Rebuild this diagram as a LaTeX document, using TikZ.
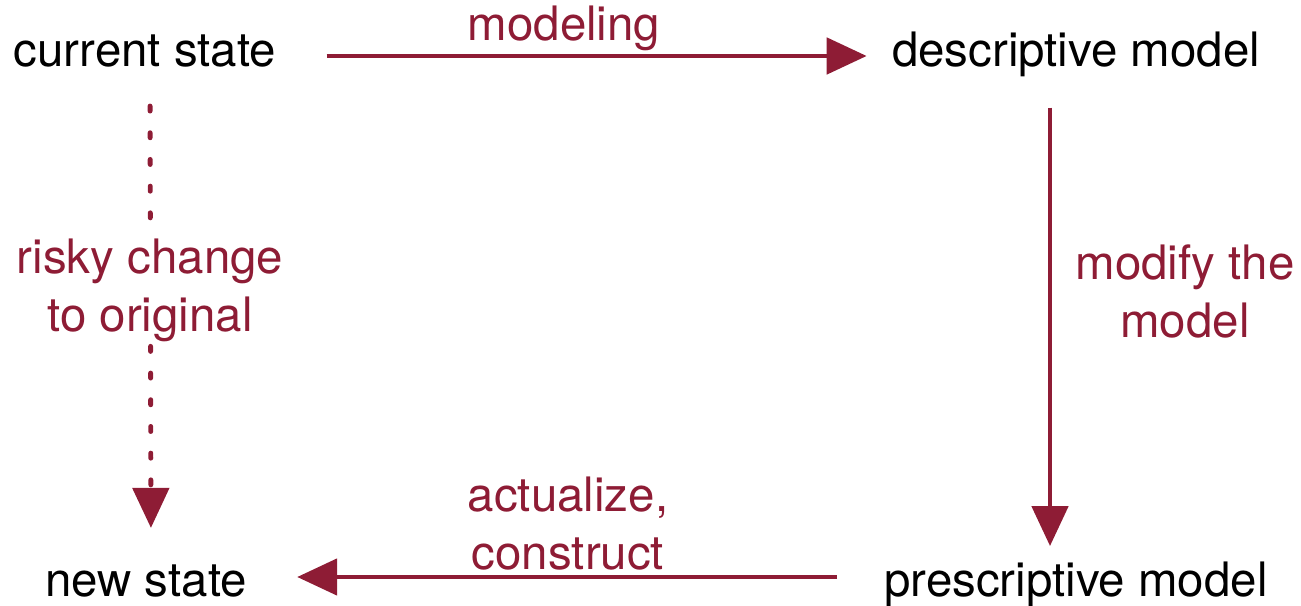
\documentclass[tikz,border=0pt]{standalone}
\usepackage{fontspec}
\setmainfont{TeX Gyre Heros}
\usetikzlibrary{arrows.meta}
\definecolor{wine}{HTML}{8E1C35}
\tikzstyle{state}=[anchor=base, inner sep=0pt, text=black, font=\fontsize{27}{33}\selectfont]
\tikzstyle{act}=[inner sep=1pt, text=wine, align=center, font=\fontsize{27}{33}\selectfont]
\tikzstyle{flow}=[draw=wine, line width=2.8pt, -{Triangle[length=0.8cm,width=0.72cm]}]
\tikzstyle{risky}=[flow, dash pattern=on 0.1cm off 0.434cm, line cap=round]

\begin{document}
\begin{tikzpicture}
            \useasboundingbox (0,0) rectangle (26.02,12.1);

            \begin{scope}[every node/.style={state}]
                \node (1) at (2.90,10.76) {current state};
                \node (2) at (21.52,10.76) {descriptive model};
                \node (3) at (21.52,0.18) {prescriptive model};
                \node (4) at (2.92,0.18) {new state};
            \end{scope}

            \begin{scope}[every path/.style={flow}]
                \path[shorten <=1cm, shorten >=0.5cm] ([yshift=0.22cm]1.base east) -- ([yshift=0.22cm]2.base west);
                \path[shorten <=0.6cm, shorten >=0.3cm] ([xshift=-0.52cm]2.south) -- ([xshift=-0.52cm]3.north);
                \path[shorten <=0.94cm, shorten >=1cm] ([yshift=0.38cm]3.base west) -- ([yshift=0.38cm]4.base east);
                \path[risky, shorten <=0.76cm, shorten >=0.72cm] ([xshift=0.1cm]1.south) -- ([xshift=0.1cm]4.north);
            \end{scope}

            \begin{scope}[every node/.style={act}]
                \node[anchor=base] (m1) at (11.28,11.28) {modeling};
                \node (m2) at (23.70,6.27) {modify the\\model};
                \node (m3) at (11.36,1.62) {actualize,\\construct};
                \node[fill=white] (m4) at (3.0,6.3) {risky change\\to original};
            \end{scope}
        \end{tikzpicture}
\end{document}
